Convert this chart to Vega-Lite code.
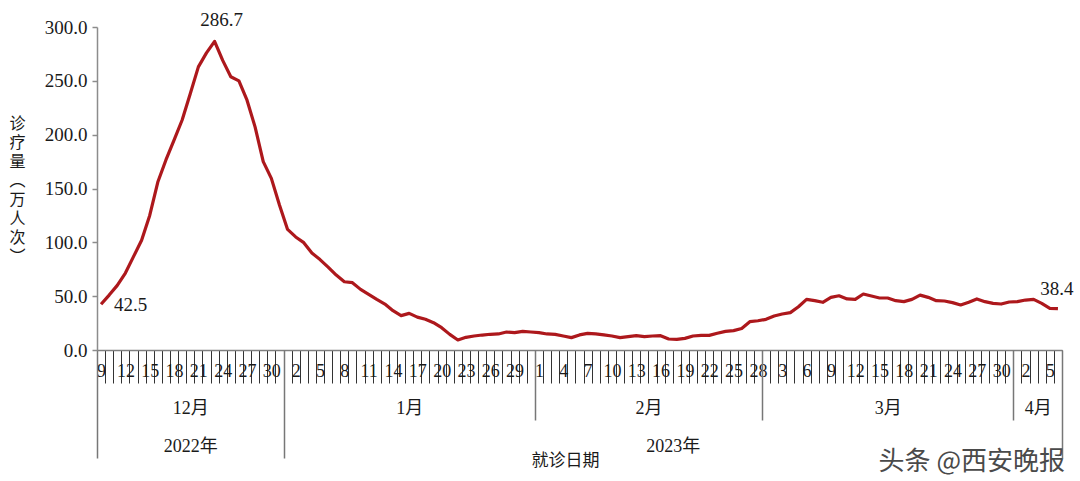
{
  "$schema": "https://vega.github.io/schema/vega-lite/v6.json",
  "width": 965,
  "height": 323,
  "autosize": {"type": "none"},
  "padding": {"left": 97, "top": 27, "right": 18, "bottom": 131},
  "config": {"view": {"stroke": null}, "font": "Liberation Serif"},
  "title": {
    "text": "头条 @西安晚报",
    "orient": "bottom",
    "anchor": "end",
    "frame": "group",
    "font": "Noto Sans CJK SC",
    "fontSize": 26,
    "fontWeight": "normal",
    "color": "#4a4a4a",
    "offset": 0,
    "baseline": "middle",
    "dy": -6,
    "dx": 3
  },
  "data": {"values": [
    {"date": "2022/12/09", "value": 42.5},
    {"date": "2022/12/10", "value": 51},
    {"date": "2022/12/11", "value": 60},
    {"date": "2022/12/12", "value": 71.5},
    {"date": "2022/12/13", "value": 86.7},
    {"date": "2022/12/14", "value": 102},
    {"date": "2022/12/15", "value": 125},
    {"date": "2022/12/16", "value": 156},
    {"date": "2022/12/17", "value": 176.5},
    {"date": "2022/12/18", "value": 195},
    {"date": "2022/12/19", "value": 213.6},
    {"date": "2022/12/20", "value": 238},
    {"date": "2022/12/21", "value": 263},
    {"date": "2022/12/22", "value": 276},
    {"date": "2022/12/23", "value": 286.7},
    {"date": "2022/12/24", "value": 269},
    {"date": "2022/12/25", "value": 253.8},
    {"date": "2022/12/26", "value": 250},
    {"date": "2022/12/27", "value": 232},
    {"date": "2022/12/28", "value": 207},
    {"date": "2022/12/29", "value": 175},
    {"date": "2022/12/30", "value": 159.4},
    {"date": "2022/12/31", "value": 134.6},
    {"date": "2023/01/01", "value": 112},
    {"date": "2023/01/02", "value": 105},
    {"date": "2023/01/03", "value": 99.7},
    {"date": "2023/01/04", "value": 90},
    {"date": "2023/01/05", "value": 84},
    {"date": "2023/01/06", "value": 77},
    {"date": "2023/01/07", "value": 69.6},
    {"date": "2023/01/08", "value": 63.4},
    {"date": "2023/01/09", "value": 62.5},
    {"date": "2023/01/10", "value": 56.3},
    {"date": "2023/01/11", "value": 51.7},
    {"date": "2023/01/12", "value": 47},
    {"date": "2023/01/13", "value": 42.7},
    {"date": "2023/01/14", "value": 36.5},
    {"date": "2023/01/15", "value": 31.9},
    {"date": "2023/01/16", "value": 34},
    {"date": "2023/01/17", "value": 30.5},
    {"date": "2023/01/18", "value": 28.5},
    {"date": "2023/01/19", "value": 25.4},
    {"date": "2023/01/20", "value": 20.7},
    {"date": "2023/01/21", "value": 14.5},
    {"date": "2023/01/22", "value": 9.3},
    {"date": "2023/01/23", "value": 11.8},
    {"date": "2023/01/24", "value": 13},
    {"date": "2023/01/25", "value": 13.9},
    {"date": "2023/01/26", "value": 14.6},
    {"date": "2023/01/27", "value": 14.9},
    {"date": "2023/01/28", "value": 16.7},
    {"date": "2023/01/29", "value": 16.1},
    {"date": "2023/01/30", "value": 17.3},
    {"date": "2023/01/31", "value": 16.7},
    {"date": "2023/02/01", "value": 16.1},
    {"date": "2023/02/02", "value": 14.9},
    {"date": "2023/02/03", "value": 14.5},
    {"date": "2023/02/04", "value": 13},
    {"date": "2023/02/05", "value": 11.5},
    {"date": "2023/02/06", "value": 14},
    {"date": "2023/02/07", "value": 15.5},
    {"date": "2023/02/08", "value": 14.9},
    {"date": "2023/02/09", "value": 14},
    {"date": "2023/02/10", "value": 13},
    {"date": "2023/02/11", "value": 11.5},
    {"date": "2023/02/12", "value": 12.4},
    {"date": "2023/02/13", "value": 13.3},
    {"date": "2023/02/14", "value": 12.4},
    {"date": "2023/02/15", "value": 13},
    {"date": "2023/02/16", "value": 13.3},
    {"date": "2023/02/17", "value": 10.2},
    {"date": "2023/02/18", "value": 9.9},
    {"date": "2023/02/19", "value": 10.8},
    {"date": "2023/02/20", "value": 13},
    {"date": "2023/02/21", "value": 13.6},
    {"date": "2023/02/22", "value": 13.6},
    {"date": "2023/02/23", "value": 15.5},
    {"date": "2023/02/24", "value": 17.3},
    {"date": "2023/02/25", "value": 18},
    {"date": "2023/02/26", "value": 20},
    {"date": "2023/02/27", "value": 26.3},
    {"date": "2023/02/28", "value": 27.2},
    {"date": "2023/03/01", "value": 28.5},
    {"date": "2023/03/02", "value": 31.6},
    {"date": "2023/03/03", "value": 33.4},
    {"date": "2023/03/04", "value": 34.7},
    {"date": "2023/03/05", "value": 40.2},
    {"date": "2023/03/06", "value": 47},
    {"date": "2023/03/07", "value": 45.8},
    {"date": "2023/03/08", "value": 44.3},
    {"date": "2023/03/09", "value": 48.9},
    {"date": "2023/03/10", "value": 50.4},
    {"date": "2023/03/11", "value": 47.4},
    {"date": "2023/03/12", "value": 47},
    {"date": "2023/03/13", "value": 52},
    {"date": "2023/03/14", "value": 50.1},
    {"date": "2023/03/15", "value": 48.3},
    {"date": "2023/03/16", "value": 48.3},
    {"date": "2023/03/17", "value": 45.8},
    {"date": "2023/03/18", "value": 44.9},
    {"date": "2023/03/19", "value": 47},
    {"date": "2023/03/20", "value": 51},
    {"date": "2023/03/21", "value": 48.9},
    {"date": "2023/03/22", "value": 45.8},
    {"date": "2023/03/23", "value": 45.5},
    {"date": "2023/03/24", "value": 44},
    {"date": "2023/03/25", "value": 41.8},
    {"date": "2023/03/26", "value": 44.3},
    {"date": "2023/03/27", "value": 47.4},
    {"date": "2023/03/28", "value": 44.9},
    {"date": "2023/03/29", "value": 43.3},
    {"date": "2023/03/30", "value": 42.7},
    {"date": "2023/03/31", "value": 44.6},
    {"date": "2023/04/01", "value": 44.9},
    {"date": "2023/04/02", "value": 46.4},
    {"date": "2023/04/03", "value": 47},
    {"date": "2023/04/04", "value": 43.3},
    {"date": "2023/04/05", "value": 38.7},
    {"date": "2023/04/06", "value": 38.4}
  ]},
  "encoding": {
    "y": {
      "field": "value",
      "type": "quantitative",
      "scale": {"domain": [0, 300], "nice": false, "zero": true},
      "axis": {
        "values": [0, 50, 100, 150, 200, 250, 300],
        "format": ".1f",
        "grid": false,
        "labelFont": "Liberation Serif",
        "labelFontSize": 19,
        "labelColor": "#1a1a1a",
        "labelPadding": 5,
        "tickSize": 5,
        "tickColor": "#8c8c8c",
        "tickWidth": 1.5,
        "domainColor": "#8c8c8c",
        "domainWidth": 1.5,
        "title": ["诊", "疗", "量", "︵", "万", "人", "次", "︶"],
        "titleAngle": 0,
        "titleFont": "Noto Sans CJK SC",
        "titleFontSize": 16,
        "titleFontWeight": "normal",
        "titleLineHeight": 19,
        "titleColor": "#1a1a1a",
        "titleX": -80,
        "titleY": 96,
        "titleBaseline": "middle",
        "titleAlign": "center"
      }
    }
  },
  "layer": [
    {
      "mark": {"type": "line", "color": "#ad181c", "strokeWidth": 3.2, "strokeJoin": "round"},
      "encoding": {
        "x": {
          "field": "date", "type": "temporal", "timeUnit": "yearmonthdate", "bandPosition": 0.5,
          "scale": {"domain": [{"year": 2022, "month": 12, "date": 9}, {"year": 2023, "month": 4, "date": 7}], "nice": false},
          "axis": {
            "orient": "bottom",
            "title": null,
            "grid": false,
            "tickCount": {"interval": "day", "step": 1},
            "tickSize": 33,
            "tickColor": "#333333",
            "tickWidth": 1,
            "domainColor": "#808080",
            "domainWidth": 1.5,
            "labelExpr": "round((datum.value - datetime(2022, 11, 9)) / 86400000) % 3 == 0 ? '' + date(datum.value) : ''",
            "labelOffset": 4.05,
            "labelPadding": -12,
            "labelBaseline": "middle",
            "labelAlign": "center",
            "labelFont": "Liberation Serif",
            "labelFontSize": 18,
            "labelColor": "#1a1a1a",
            "labelOverlap": false,
            "labelFlush": false,
            "labelBound": false
          }
        }
      }
    },
    {
      "transform": [{"filter": {"field": "value", "equal": 42.5}}],
      "mark": {"type": "text", "align": "left", "baseline": "middle", "dx": 13, "dy": 1, "fontSize": 19, "color": "#1a1a1a", "font": "Liberation Serif"},
      "encoding": {
        "x": {
          "field": "date", "type": "temporal", "timeUnit": "yearmonthdate", "bandPosition": 0.5,
          "scale": {"domain": [{"year": 2022, "month": 12, "date": 9}, {"year": 2023, "month": 4, "date": 7}], "nice": false},
          "axis": {
            "orient": "bottom",
            "title": null,
            "grid": false,
            "domain": false,
            "labels": false,
            "values": [
              {"year": 2022, "month": 12, "date": 9},
              {"year": 2023, "month": 1, "date": 1},
              {"year": 2023, "month": 2, "date": 1},
              {"year": 2023, "month": 3, "date": 1},
              {"year": 2023, "month": 4, "date": 1},
              {"year": 2023, "month": 4, "date": 7}
            ],
            "tickColor": "#777777",
            "tickWidth": 1.5,
            "tickSize": {"condition": {"test": "date(datum.value) == 1 && month(datum.value) != 0", "value": 70}, "value": 108}
          }
        },
        "text": {"field": "value", "type": "quantitative", "format": ".1f"}
      }
    },
    {
      "transform": [{"filter": {"field": "value", "equal": 286.7}}],
      "mark": {"type": "text", "align": "center", "baseline": "middle", "dx": 7, "dy": -21, "fontSize": 19, "color": "#1a1a1a", "font": "Liberation Serif"},
      "encoding": {
        "x": {
          "field": "date", "type": "temporal", "timeUnit": "yearmonthdate", "bandPosition": 0.5,
          "scale": {"domain": [{"year": 2022, "month": 12, "date": 9}, {"year": 2023, "month": 4, "date": 7}], "nice": false},
          "axis": {
            "orient": "bottom",
            "grid": false,
            "domain": false,
            "ticks": false,
            "values": [
              {"year": 2022, "month": 12, "date": 20, "hours": 12},
              {"year": 2023, "month": 1, "date": 16, "hours": 12},
              {"year": 2023, "month": 2, "date": 15},
              {"year": 2023, "month": 2, "date": 18},
              {"year": 2023, "month": 3, "date": 16, "hours": 12},
              {"year": 2023, "month": 4, "date": 4}
            ],
            "labelExpr": "month(datum.value) == 11 ? ['12月', '2022年'] : month(datum.value) == 0 ? ['1月', ''] : (month(datum.value) == 1 && date(datum.value) == 15) ? ['2月', ''] : month(datum.value) == 1 ? ['', '2023年'] : month(datum.value) == 2 ? ['3月', ''] : ['4月', '']",
            "labelOverlap": false,
            "labelFlush": false,
            "labelBound": false,
            "labelPadding": 49,
            "labelBaseline": "top",
            "labelLineHeight": 38,
            "labelAlign": "center",
            "labelFont": "Liberation Serif, Noto Sans CJK SC",
            "labelFontSize": 18,
            "labelColor": "#1a1a1a",
            "title": "就诊日期",
            "titleFont": "Noto Sans CJK SC",
            "titleFontSize": 17,
            "titleFontWeight": "normal",
            "titleColor": "#1a1a1a",
            "titleX": 468,
            "titleY": 110,
            "titleBaseline": "middle",
            "titleAlign": "center"
          }
        },
        "text": {"field": "value", "type": "quantitative", "format": ".1f"}
      }
    },
    {
      "transform": [{"filter": {"field": "value", "equal": 38.4}}],
      "mark": {"type": "text", "align": "center", "baseline": "middle", "dx": -1, "dy": -20, "fontSize": 19, "color": "#1a1a1a", "font": "Liberation Serif"},
      "encoding": {
        "x": {
          "field": "date", "type": "temporal", "timeUnit": "yearmonthdate", "bandPosition": 0.5,
          "scale": {"domain": [{"year": 2022, "month": 12, "date": 9}, {"year": 2023, "month": 4, "date": 7}], "nice": false},
          "axis": null
        },
        "text": {"field": "value", "type": "quantitative", "format": ".1f"}
      }
    }
  ],
  "resolve": {"scale": {"x": "independent"}}
}
